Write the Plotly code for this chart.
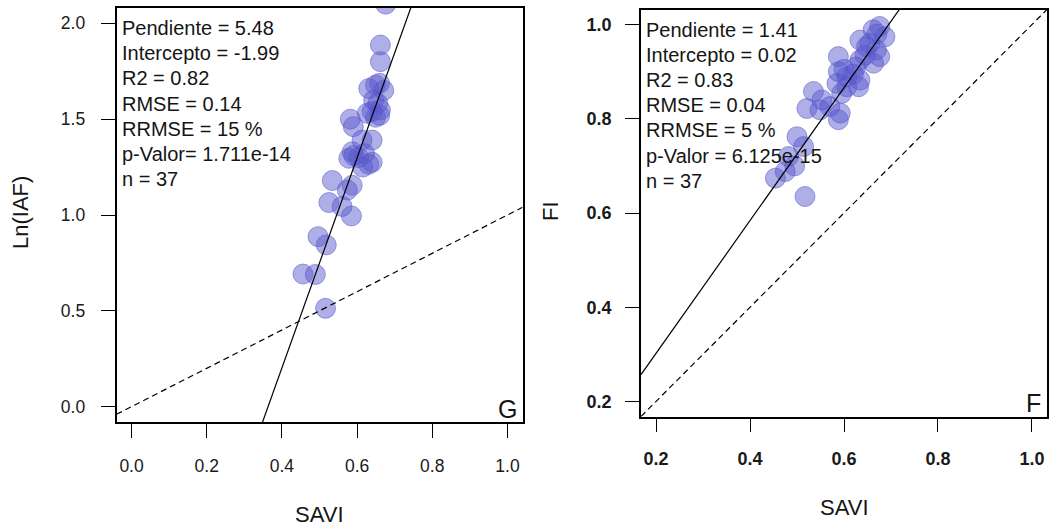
import plotly.graph_objects as go

# ---- data: SAVI vs Ln(IAF) (panel G) ----
savi_g = [0.676, 0.662, 0.662, 0.649, 0.660, 0.631, 0.671, 0.644, 0.655, 0.662,
          0.627, 0.649, 0.660, 0.582, 0.640, 0.590, 0.613, 0.640, 0.587, 0.591,
          0.604, 0.578, 0.620, 0.631, 0.640, 0.615, 0.534, 0.587, 0.574, 0.525,
          0.560, 0.585, 0.496, 0.518, 0.456, 0.489, 0.516]
lniaf_g = [2.100, 1.887, 1.800, 1.678, 1.687, 1.660, 1.650, 1.600, 1.583, 1.548,
           1.531, 1.510, 1.520, 1.500, 1.540, 1.461, 1.391, 1.391, 1.330, 1.310,
           1.300, 1.296, 1.320, 1.265, 1.275, 1.250, 1.180, 1.155, 1.130, 1.065,
           1.045, 0.995, 0.887, 0.844, 0.692, 0.690, 0.513]

# ---- data: SAVI vs FI (panel F) ----
savi_f = [0.676, 0.662, 0.687, 0.670, 0.634, 0.648, 0.669, 0.676, 0.655, 0.588,
          0.634, 0.663, 0.645, 0.588, 0.606, 0.634, 0.585, 0.606, 0.631, 0.600,
          0.620, 0.535, 0.595, 0.553, 0.521, 0.549, 0.570, 0.592, 0.588, 0.500,
          0.514, 0.482, 0.495, 0.454, 0.475, 0.517, 0.625]
fi_f = [0.996, 0.989, 0.974, 0.980, 0.967, 0.953, 0.946, 0.932, 0.960, 0.932,
        0.925, 0.918, 0.935, 0.900, 0.889, 0.882, 0.875, 0.868, 0.868, 0.905,
        0.895, 0.858, 0.854, 0.840, 0.822, 0.819, 0.826, 0.812, 0.798, 0.762,
        0.741, 0.720, 0.700, 0.674, 0.688, 0.635, 0.910]

# regression coefficients and statistics
slope_g, intercept_g = 5.48, -1.99
slope_f, intercept_f = 1.41, 0.02
stats_g = ["Pendiente = 5.48", "Intercepto = -1.99", "R2 = 0.82", "RMSE = 0.14",
           "RRMSE = 15 %", "p-Valor= 1.711e-14", "n = 37"]
stats_f = ["Pendiente = 1.41", "Intercepto = 0.02", "R2 = 0.83", "RMSE = 0.04",
           "RRMSE = 5 %", "p-Valor = 6.125e-15", "n = 37"]

# axis limits (R style: 4% padding around the nominal limits)
xlim_g, ylim_g = (0.0, 1.0), (0.0, 2.0)
xlim_f, ylim_f = (0.2, 1.0), (0.2, 1.0)
ticks_g_x = [0.0, 0.2, 0.4, 0.6, 0.8, 1.0]
ticks_g_y = [0.0, 0.5, 1.0, 1.5, 2.0]
ticks_f_x = [0.2, 0.4, 0.6, 0.8, 1.0]
ticks_f_y = [0.2, 0.4, 0.6, 0.8, 1.0]


def padded(lim):
    d = (lim[1] - lim[0]) * 0.04
    return [lim[0] - d, lim[1] + d]


W, H = 1049, 527
FONT = "Liberation Sans, Arial, sans-serif"
PT_FILL = "rgba(88,88,205,0.48)"
PT_LINE = "rgba(88,88,205,0.55)"

fig = go.Figure()

panels = [
    dict(x=savi_g, y=lniaf_g, slope=slope_g, icpt=intercept_g, xlim=xlim_g, ylim=ylim_g,
         xa="x", ya="y"),
    dict(x=savi_f, y=fi_f, slope=slope_f, icpt=intercept_f, xlim=xlim_f, ylim=ylim_f,
         xa="x2", ya="y2"),
]

for p in panels:
    xr = padded(p["xlim"])
    fig.add_trace(go.Scatter(
        x=p["x"], y=p["y"], mode="markers", xaxis=p["xa"], yaxis=p["ya"],
        marker=dict(size=20, color=PT_FILL, line=dict(color=PT_LINE, width=1)),
        showlegend=False, hoverinfo="skip"))
    # 1:1 reference line
    fig.add_trace(go.Scatter(
        x=xr, y=xr, mode="lines", xaxis=p["xa"], yaxis=p["ya"],
        line=dict(color="black", width=1.2, dash="6px,4px"),
        showlegend=False, hoverinfo="skip"))
    # fitted line
    fig.add_trace(go.Scatter(
        x=xr, y=[p["slope"] * v + p["icpt"] for v in xr], mode="lines",
        xaxis=p["xa"], yaxis=p["ya"],
        line=dict(color="black", width=1.2),
        showlegend=False, hoverinfo="skip"))

# box geometry in pixels
box_g = dict(l=116.5, r=522.5, t=8, b=422)
box_f = dict(l=641, r=1047, t=9.5, b=416.5)


def dom_x(b):
    return [b["l"] / W, b["r"] / W]


def dom_y(b):
    return [1 - b["b"] / H, 1 - b["t"] / H]


axis_common = dict(showline=True, linecolor="black", linewidth=1.6, mirror=True,
                   ticks="outside", ticklen=14, tickwidth=1.4, tickcolor="black",
                   showgrid=False, zeroline=False, fixedrange=True)

tick_font_g = dict(family=FONT, size=17.5, color="#1a1a1a")
tick_font_f = dict(family=FONT, size=18, color="#1a1a1a", weight="bold")

fig.update_layout(
    width=W, height=H,
    margin=dict(l=0, r=0, t=0, b=0),
    paper_bgcolor="white", plot_bgcolor="white",
    xaxis=dict(axis_common, domain=dom_x(box_g), range=padded(xlim_g), anchor="y",
               tickvals=ticks_g_x, ticktext=[f"{v:.1f}" for v in ticks_g_x],
               tickfont=tick_font_g, ticklabelstandoff=13),
    yaxis=dict(axis_common, domain=dom_y(box_g), range=padded(ylim_g), anchor="x",
               tickvals=ticks_g_y, ticktext=[f"{v:.1f}" for v in ticks_g_y],
               tickfont=tick_font_g, ticklabelstandoff=12),
    xaxis2=dict(axis_common, domain=dom_x(box_f), range=padded(xlim_f), anchor="y2",
                tickvals=ticks_f_x, ticktext=[f"{v:.1f}" for v in ticks_f_x],
                tickfont=tick_font_f, ticklabelstandoff=11),
    yaxis2=dict(axis_common, domain=dom_y(box_f), range=padded(ylim_f), anchor="x2",
                tickvals=ticks_f_y, ticktext=[f"{v:.1f}" for v in ticks_f_y],
                tickfont=tick_font_f, ticklabelstandoff=10),
)

annotations = []
text_font = dict(family=FONT, size=20, color="#151515")
for lines, xa, ya in [(stats_g, "x", "y"), (stats_f, "x2", "y2")]:
    for i, line in enumerate(lines):
        annotations.append(dict(
            text=line, xref=f"{xa} domain", yref=f"{ya} domain", x=0, y=1,
            xanchor="left", yanchor="top", showarrow=False, font=text_font,
            xshift=3, yshift=-(7 + i * 25.2)))

# panel letters
letter_font = dict(family=FONT, size=25, color="#151515")
annotations.append(dict(text="G", xref="x domain", yref="y domain", x=1, y=0,
                        xanchor="right", yanchor="bottom", showarrow=False,
                        font=letter_font, xshift=-4, yshift=-3))
annotations.append(dict(text="F", xref="x2 domain", yref="y2 domain", x=1, y=0,
                        xanchor="right", yanchor="bottom", showarrow=False,
                        font=letter_font, xshift=-4, yshift=-3))

# axis titles
title_font = dict(family=FONT, size=22, color="#151515")
annotations.append(dict(text="SAVI", xref="paper", yref="paper",
                        x=(box_g["l"] + box_g["r"]) / 2 / W, y=1 - 514 / H,
                        xanchor="center", yanchor="middle", showarrow=False,
                        font=title_font))
annotations.append(dict(text="SAVI", xref="paper", yref="paper",
                        x=(box_f["l"] + box_f["r"]) / 2 / W, y=1 - 507 / H,
                        xanchor="center", yanchor="middle", showarrow=False,
                        font=title_font))
annotations.append(dict(text="Ln(IAF)", xref="paper", yref="paper",
                        x=20 / W, y=1 - 213 / H, textangle=-90,
                        xanchor="center", yanchor="middle", showarrow=False,
                        font=title_font))
annotations.append(dict(text="FI", xref="paper", yref="paper",
                        x=550 / W, y=1 - 211 / H, textangle=-90,
                        xanchor="center", yanchor="middle", showarrow=False,
                        font=title_font))

fig.update_layout(annotations=annotations)

fig.write_html("out.html", config={"displayModeBar": False})
